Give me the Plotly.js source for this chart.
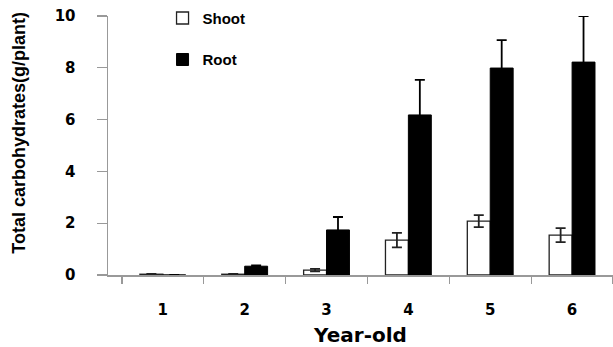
<!DOCTYPE html>
<html><head><meta charset="utf-8">
<script src="https://cdn.plot.ly/plotly-3.0.1.min.js"></script>
<style>body{margin:0;background:#fff}#c{width:613px;height:347px}</style>
</head><body><div id="c"></div>
<script>
const years = ["1","2","3","4","5","6"];
const shootVals = [0.03, 0.03, 0.19, 1.35, 2.08, 1.54];
const shootErr  = [0.01, 0.01, 0.05, 0.28, 0.23, 0.27];
const rootVals  = [0.0, 0.34, 1.74, 6.18, 7.99, 8.22];
const rootErr   = [0.0, 0.03, 0.50, 1.35, 1.08, 1.78];
const yTicks = [0, 2, 4, 6, 8, 10];

const traces = [
  {type:'bar', name:'Shoot', x:years, y:shootVals, legendgroup:'a',
   marker:{color:'#ffffff', line:{color:'#222', width:1.3}},
   error_y:{type:'data', array:shootErr, visible:true, color:'#222', thickness:1.8, width:5}},
  {type:'bar', name:'Root', x:years, y:rootVals, legendgroup:'b',
   marker:{color:'#000000', line:{color:'#000', width:1}},
   error_y:{type:'data', array:rootErr, visible:true, color:'#000', thickness:1.8, width:5}}
];
const layout = {
  width:613, height:347,
  margin:{l:108, r:0, t:16, b:72},
  paper_bgcolor:'#fff', plot_bgcolor:'#fff',
  barmode:'group', bargap:0.44, bargroupgap:0,
  showlegend:true,
  legend:{x:0.108, y:1.055, xanchor:'left', yanchor:'top', bgcolor:'rgba(0,0,0,0)',
    tracegroupgap:19, traceorder:'grouped',
    font:{family:'Liberation Sans, Arial', size:15, color:'#000', weight:'bold'}},
  font:{family:'DejaVu Sans', color:'#000'},
  xaxis:{type:'category', range:[-0.67, 5.5], showline:true, linecolor:'#999', linewidth:1.5,
    ticks:'outside', tickson:'boundaries', ticklen:7, tickcolor:'#999', tickwidth:1.2,
    ticklabelstandoff:20,
    tickfont:{family:'DejaVu Sans', size:15, color:'#000', weight:'bold'},
    showgrid:false, zeroline:false,
    title:{text:'Year-old', standoff:13, font:{family:'DejaVu Sans', size:20, color:'#000', weight:'bold'}}},
  yaxis:{range:[0,10], tickvals:yTicks, ticktext:yTicks.map(String), showline:true, linecolor:'#999', linewidth:1.5,
    ticks:'outside', ticklen:10, tickcolor:'#999', tickwidth:1.2, ticklabelstandoff:18,
    tickfont:{family:'DejaVu Sans', size:15, color:'#000', weight:'bold'},
    showgrid:false, zeroline:false},
  annotations:[{text:'Total carbohydrates(g/plant)', textangle:-90, showarrow:false,
    xref:'paper', yref:'paper', x:-0.178, y:0.55, xanchor:'center', yanchor:'middle',
    font:{family:'Liberation Sans, Arial', size:18, color:'#000', weight:'bold'}}]
};
Plotly.newPlot('c', traces, layout, {staticPlot:true, displayModeBar:false});
</script></body></html>
